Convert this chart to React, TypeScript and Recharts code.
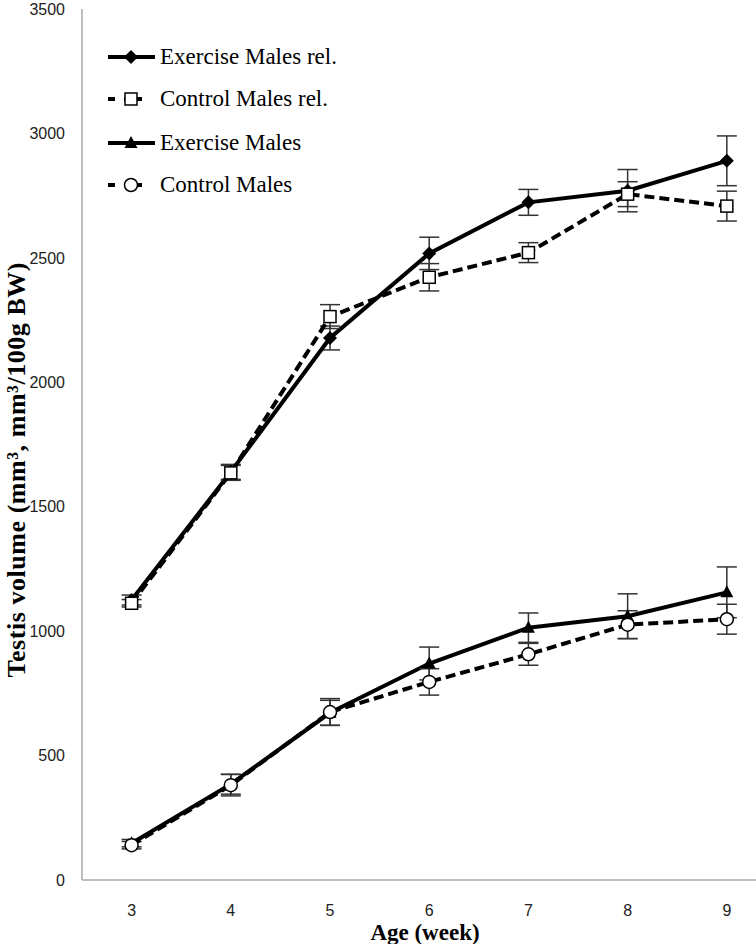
import React from "react";
import { LineChart, Line, XAxis, YAxis, ErrorBar, Label } from "recharts";

// age in weeks
const weeks = [3, 4, 5, 6, 7, 8, 9];

// relative testis volume (mm3/100g BW)
const exerciseRel = [1125, 1640, 2178, 2518, 2723, 2770, 2890];
const exerciseRelErr = [20, 30, 48, 65, 52, 85, 100];
const controlRel = [1112, 1636, 2264, 2422, 2521, 2756, 2708];
const controlRelErr = [15, 30, 48, 55, 40, 50, 60];

// absolute testis volume (mm3)
const exercise = [148, 385, 672, 870, 1014, 1060, 1156];
const exerciseErr = [15, 40, 50, 66, 59, 90, 102];
const control = [140, 381, 675, 796, 907, 1026, 1048];
const controlErr = [15, 43, 54, 53, 44, 56, 60];

const yTicks = [0, 500, 1000, 1500, 2000, 2500, 3000, 3500];

const legendNames = ["Exercise Males rel.", "Control Males rel.", "Exercise Males", "Control Males"];

const data = weeks.map((w, i) => ({
  week: w,
  exRel: exerciseRel[i],
  exRelErr: exerciseRelErr[i],
  ctRel: controlRel[i],
  ctRelErr: controlRelErr[i],
  ex: exercise[i],
  exErr: exerciseErr[i],
  ct: control[i],
  ctErr: controlErr[i],
}));

const serif = '"Liberation Serif", "Times New Roman", serif';
const sans = '"Liberation Sans", Arial, sans-serif';
const DASH = "10 5";

function Diamond({ cx, cy }: { cx: number; cy: number }) {
  return <path d={`M${cx},${cy - 7}L${cx + 7},${cy}L${cx},${cy + 7}L${cx - 7},${cy}Z`} fill="#000" />;
}
function Square({ cx, cy }: { cx: number; cy: number }) {
  return <rect x={cx - 6} y={cy - 6} width={12} height={12} fill="#fff" stroke="#000" strokeWidth={1.5} />;
}
function Triangle({ cx, cy }: { cx: number; cy: number }) {
  return <path d={`M${cx},${cy - 7}L${cx + 6.5},${cy + 5}L${cx - 6.5},${cy + 5}Z`} fill="#000" />;
}
function Circle({ cx, cy }: { cx: number; cy: number }) {
  return <circle cx={cx} cy={cy} r={6.5} fill="#fff" stroke="#000" strokeWidth={1.5} />;
}

const markers = [Diamond, Square, Triangle, Circle];

const dotFor = (M: typeof Diamond, tag: string) => (p: any) =>
  <M key={`${tag}-${p.index}`} cx={p.cx} cy={p.cy} />;

// legend drawn as an overlay so it doesn't eat plot space
function LegendBox() {
  const rows = [57, 99, 143, 185];
  return (
    <svg width={380} height={210} style={{ position: "absolute", left: 0, top: 0, pointerEvents: "none" }}>
      {legendNames.map((name, i) => {
        const M = markers[i];
        const dashed = i % 2 === 1;
        const y = rows[i];
        return (
          <g key={name}>
            <line
              x1={108}
              x2={dashed ? 149 : 155}
              y1={y}
              y2={y}
              stroke="#000"
              strokeWidth={4}
              strokeDasharray={dashed ? "7 9 18 9" : undefined}
            />
            <M cx={131} cy={y} />
            <text x={160} y={y + 7} fontFamily={serif} fontSize={23} fill="#000">
              {name}
            </text>
          </g>
        );
      })}
    </svg>
  );
}

function YLabel() {
  return (
    <text
      x={16}
      y={470}
      transform="rotate(-90, 16, 470)"
      textAnchor="middle"
      dominantBaseline="central"
      fontFamily={serif}
      fontWeight="bold"
      fontSize={26}
      textLength={415}
      lengthAdjust="spacing"
      fill="#000"
    >
      Testis volume (mm³, mm³/100g BW)
    </text>
  );
}

function XLabel() {
  return (
    <text x={425} y={940} textAnchor="middle" fontFamily={serif} fontWeight="bold" fontSize={23} fill="#000">
      Age (week)
    </text>
  );
}

export default function App() {
  return (
    <div style={{ position: "absolute", left: 0, top: 0, width: 756, height: 944, overflow: "hidden", background: "#fff" }}>
      <LineChart width={756} height={944} data={data} margin={{ top: 9, right: 0, left: 0, bottom: 0 }}>
        <XAxis
          dataKey="week"
          type="number"
          domain={[2.5, 9.294]}
          ticks={weeks}
          allowDataOverflow
          height={64}
          stroke="#aaaaaa"
          strokeWidth={1.5}
          tickLine={false}
          tickSize={8}
          tickMargin={17}
          tick={{ fill: "#222", fontSize: 16, fontFamily: sans }}
        >
          <Label content={<XLabel />} />
        </XAxis>
        <YAxis
          domain={[0, 3500]}
          ticks={yTicks}
          width={82}
          stroke="#aaaaaa"
          strokeWidth={1.5}
          tickLine={false}
          tickSize={8}
          tickMargin={9}
          tick={{ fill: "#222", fontSize: 16, fontFamily: sans }}
        >
          <Label content={<YLabel />} />
        </YAxis>
        <Line dataKey="exRel" stroke="#000" strokeWidth={4} dot={dotFor(Diamond, "d")} activeDot={false} isAnimationActive={false}>
          <ErrorBar dataKey="exRelErr" direction="y" width={10} stroke="#333" strokeWidth={1.5} />
        </Line>
        <Line dataKey="ctRel" stroke="#000" strokeWidth={4} strokeDasharray={DASH} dot={dotFor(Square, "s")} activeDot={false} isAnimationActive={false}>
          <ErrorBar dataKey="ctRelErr" direction="y" width={10} stroke="#333" strokeWidth={1.5} />
        </Line>
        <Line dataKey="ex" stroke="#000" strokeWidth={4} dot={dotFor(Triangle, "t")} activeDot={false} isAnimationActive={false}>
          <ErrorBar dataKey="exErr" direction="y" width={10} stroke="#333" strokeWidth={1.5} />
        </Line>
        <Line dataKey="ct" stroke="#000" strokeWidth={4} strokeDasharray={DASH} dot={dotFor(Circle, "c")} activeDot={false} isAnimationActive={false}>
          <ErrorBar dataKey="ctErr" direction="y" width={10} stroke="#333" strokeWidth={1.5} />
        </Line>
      </LineChart>
      <LegendBox />
    </div>
  );
}
